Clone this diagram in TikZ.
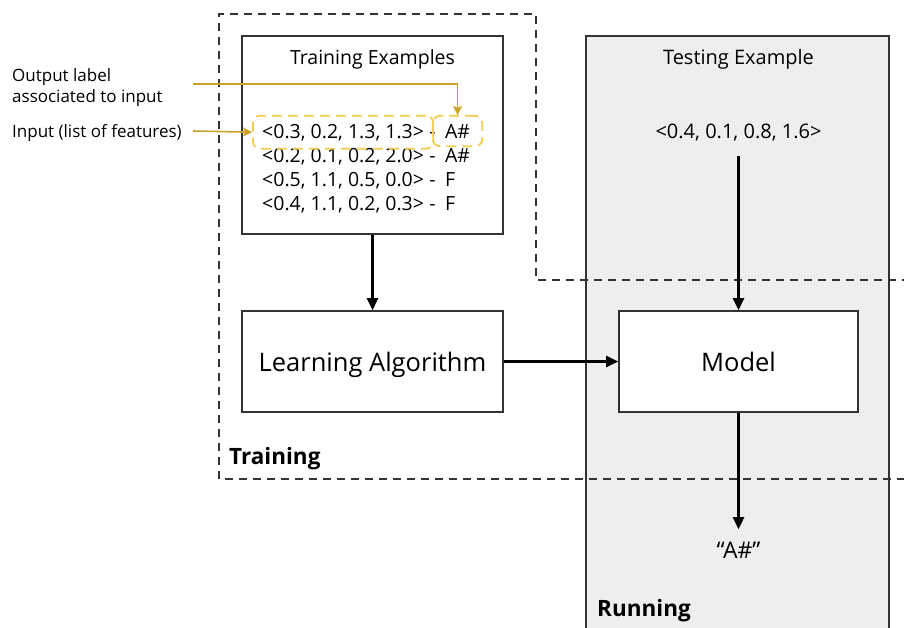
\documentclass[tikz,border=0pt]{standalone}
\usepackage{fontspec}
\setmainfont{Open Sans}
\usetikzlibrary{arrows.meta,positioning,fit}
\definecolor{gold}{HTML}{C9A227}
\definecolor{lightgold}{HTML}{F6CB52}
\definecolor{panelgray}{HTML}{EEEEEE}
\definecolor{edge}{HTML}{333333}

\begin{document}
\begin{tikzpicture}[x=1pt,y=-1pt,
    box/.style={draw=edge,line width=1.6pt,fill=white,inner sep=0pt},
    flow/.style={line width=2.4pt,-{Triangle[length=12pt,width=11pt]}},
    hint/.style={draw=gold,line width=1.6pt,-{Stealth[length=9pt,width=9pt,inset=2pt]}},
    region/.style={draw=edge,line width=1.6pt,dash pattern=on 8pt off 6pt},
    tag/.style={draw=lightgold,line width=1.8pt,rounded corners=7pt,dash pattern=on 10pt off 6pt,inner ysep=8pt},
    txt/.style={font=\fontsize{19.5}{24}\selectfont},
    note/.style={font=\fontsize{17}{21.5}\selectfont,inner sep=0pt},
    big/.style={font=\fontsize{25.5}{30}\selectfont,text depth=0pt},
    title/.style={font=\fontsize{22.5}{27}\selectfont\bfseries,anchor=west,inner sep=0pt},
  ]
  \useasboundingbox (0,0) rectangle (904,627);

  \def\rowgap{24}

  %% Running panel (runs off the page at the bottom)
  \fill[panelgray] (586,36) rectangle (889,640);
  \draw[edge,line width=1.6pt] (586,640) -- (586,36) -- (889,36) -- (889,640);

  %% Training region
  \draw[region] (910,280) -- (536,280) -- (536,14) -- (219,14) -- (219,479) -- (910,479);

  % Training examples
  \node[box,minimum width=261pt,minimum height=198pt] (examples) at (372.5,135) {};
  \node[txt] (extitle) at (372.5,59) {Training Examples};
  \foreach \i/\vals/\lab in {1/{0.3, 0.2, 1.3, 1.3}/{A\#},
                             2/{0.2, 0.1, 0.2, 2.0}/{A\#},
                             3/{0.5, 1.1, 0.5, 0.0}/{F},
                             4/{0.4, 1.1, 0.2, 0.3}/{F}}{
    \node[txt,inner sep=0pt,anchor=base west] (feat\i) at (262,{138+\rowgap*(\i-1)}) {<\vals>};
    \node[txt,inner sep=0pt,right=5pt of feat\i.base east,anchor=base west] (sep\i) {-};
    \node[txt,inner sep=0pt,right=9pt of sep\i.base east,anchor=base west] (lab\i) {\lab};
  }
  % highlight first example
  \node[tag,fit=(feat1),inner xsep=9pt] (featbox) {};
  \node[tag,fit=(lab1),inner xsep=12pt] (labbox) {};

  % explanations on the left
  \node[note,anchor=north west,align=left] (outlbl) at (12,68) {Output label\\associated to input};
  \node[note,anchor=west] (inlbl) at (12,133) {Input (list of features)};
  \coordinate (outstart) at (193,84);
  \coordinate (instart) at (193,131);
  \draw[hint] (outstart) -| (labbox.north);
  \draw[hint] (instart) -- (featbox.west);

  % learning and model
  \node[box,big,minimum width=261pt,minimum height=101pt] (learn) at (372.5,361.5) {Learning Algorithm};
  \node[box,big,minimum width=239pt,minimum height=101pt] (model) at (738.5,361.5) {Model};

  % testing side
  \node[txt,font=\fontsize{20}{24}\selectfont] (testtitle) at (738.5,59) {Testing Example};
  \node[txt,font=\fontsize{20}{24}\selectfont] (testvec) at (738.5,133) {<0.4, 0.1, 0.8, 1.6>};
  \node[font=\fontsize{23}{27}\selectfont] (result) at (738.5,550) {“A\#”};

  % Arrows
  \draw[flow] (examples.south) -- (learn.north);
  \draw[flow] (learn.east) -- (model.west);
  \draw[flow,shorten <=11pt] (testvec) -- (model.north);
  \draw[flow,shorten >=9pt] (model.south) -- (result.north);

  % region names
  \node[title] (trainname) at (229,459) {Training};
  \node[title] (runname) at (597,611) {Running};
\end{tikzpicture}
\end{document}
